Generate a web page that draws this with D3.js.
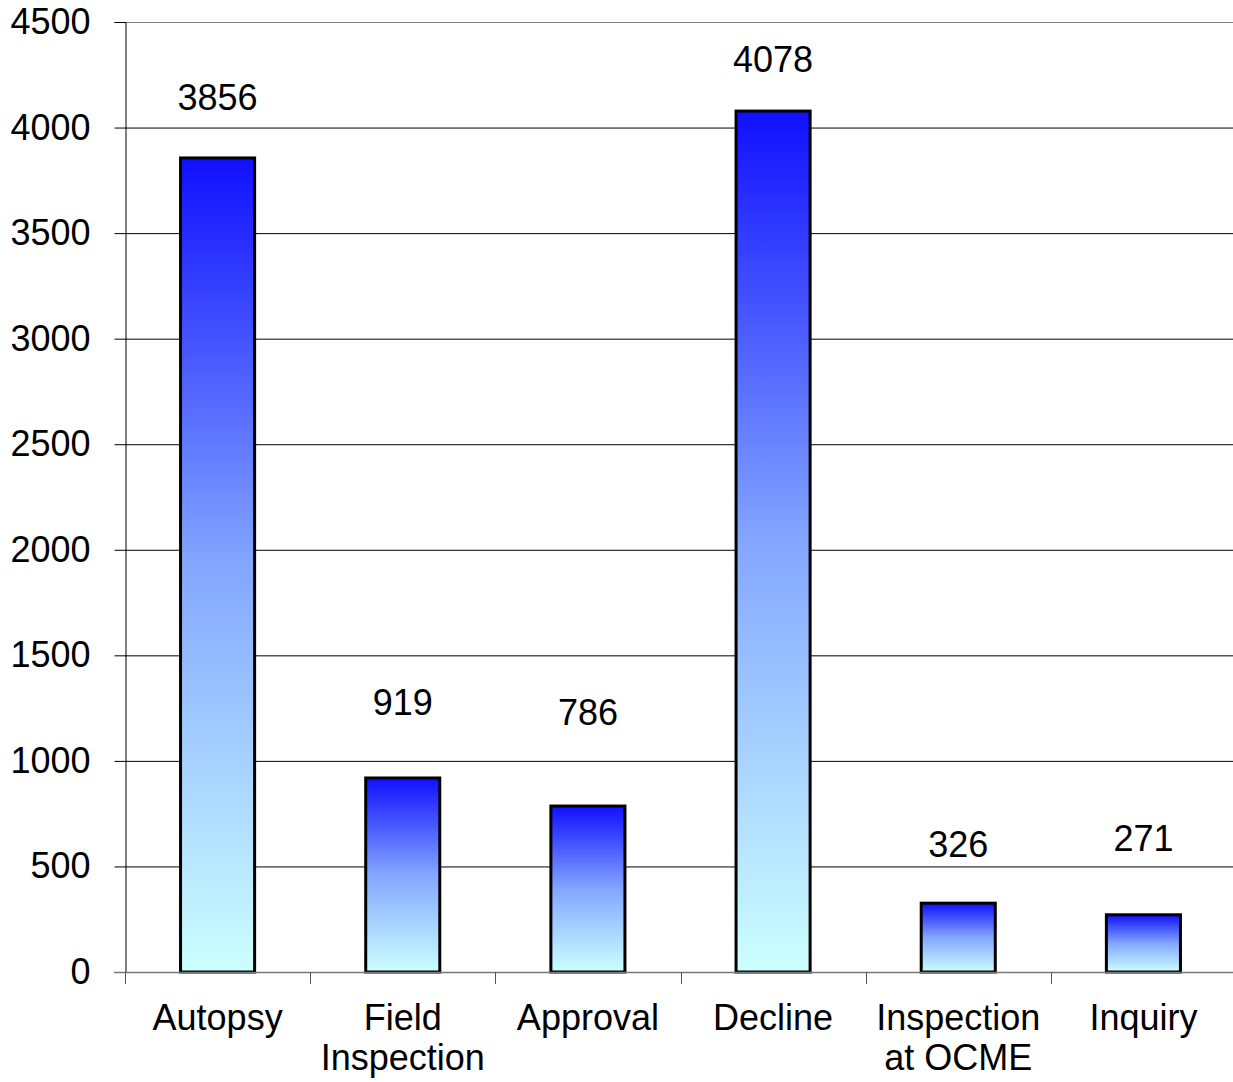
<!DOCTYPE html>
<html><head><meta charset="utf-8">
<script src="https://cdn.jsdelivr.net/npm/d3@7/dist/d3.min.js"></script>
<style>body{margin:0;background:#fff}svg{display:block}text{font-family:"Liberation Sans",Arial,sans-serif;fill:#000}</style>
</head><body>
<script>
const categories = [["Autopsy"], ["Field", "Inspection"], ["Approval"], ["Decline"], ["Inspection", "at OCME"], ["Inquiry"]];
const values = [3856, 919, 786, 4078, 326, 271];
const yTicks = [0, 500, 1000, 1500, 2000, 2500, 3000, 3500, 4000, 4500];
const labelOffsets = [61, 76, 94, 52, 59, 77];

const W = 1233, H = 1082;
const m = {left: 125, right: 0, top: 22, bottom: 110};
const svg = d3.select("body").append("svg").attr("width", W).attr("height", H);
const defs = svg.append("defs");
const grad = defs.append("linearGradient").attr("id", "barGrad").attr("x1", 0).attr("y1", 0).attr("x2", 0).attr("y2", 1);
grad.append("stop").attr("offset", "0%").attr("stop-color", "#1010ff");
grad.append("stop").attr("offset", "50%").attr("stop-color", "#84a6ff");
grad.append("stop").attr("offset", "100%").attr("stop-color", "#ccffff");

const x = d3.scaleBand().domain(d3.range(categories.length)).range([m.left, 1236]).paddingInner(0.6).paddingOuter(0.3);
const y = d3.scaleLinear().domain([0, 4500]).range([H - m.bottom, m.top]);

// gridlines
svg.append("g").selectAll("line").data(yTicks.filter(d => d > 0)).join("line")
  .attr("x1", m.left).attr("x2", W)
  .attr("y1", d => y(d) + 0.5).attr("y2", d => y(d) + 0.5)
  .attr("stroke", d => d === 4500 ? "#808080" : "#000").attr("stroke-width", 1);

// y axis
const yAxis = svg.append("g").attr("transform", `translate(${m.left + 0.5},0)`)
  .call(d3.axisLeft(y).tickValues(yTicks).tickFormat(d3.format("d")).tickSize(11).tickPadding(24));
yAxis.select(".domain").attr("stroke", "#000");
yAxis.selectAll(".tick line").attr("stroke", "#000");
yAxis.selectAll("text").style("font-size", "36px").attr("font-family", null);

// bars
svg.append("g").selectAll("rect").data(values).join("rect")
  .attr("x", (d, i) => x(i)).attr("width", x.bandwidth())
  .attr("y", d => y(d)).attr("height", d => y(0) - y(d))
  .attr("fill", "url(#barGrad)").attr("stroke", "#000").attr("stroke-width", 3);

// x axis
const xb = svg.append("g");
xb.append("line").attr("x1", m.left - 11).attr("x2", W).attr("y1", y(0) + 0.5).attr("y2", y(0) + 0.5).attr("stroke", "#777").attr("stroke-width", 1.5);
xb.selectAll("line.tk").data(d3.range(categories.length + 1)).join("line").attr("class", "tk")
  .attr("x1", i => Math.round(m.left + i * x.step()) + 0.5)
  .attr("x2", i => Math.round(m.left + i * x.step()) + 0.5)
  .attr("y1", y(0)).attr("y2", y(0) + 12).attr("stroke", "#555");

// category labels
const cl = svg.append("g").selectAll("text").data(categories).join("text")
  .attr("text-anchor", "middle").style("font-size", "36px")
  .attr("transform", (d, i) => `translate(${x(i) + x.bandwidth() / 2},${y(0) + 58})`);
cl.selectAll("tspan").data(d => d).join("tspan").attr("x", 0).attr("dy", (d, j) => j === 0 ? 0 : 40).text(d => d);

// value labels
svg.append("g").selectAll("text").data(values).join("text")
  .attr("text-anchor", "middle").style("font-size", "36px")
  .attr("x", (d, i) => x(i) + x.bandwidth() / 2)
  .attr("y", (d, i) => y(d) - labelOffsets[i] + 13)
  .text(d => d);
</script>
</body></html>
